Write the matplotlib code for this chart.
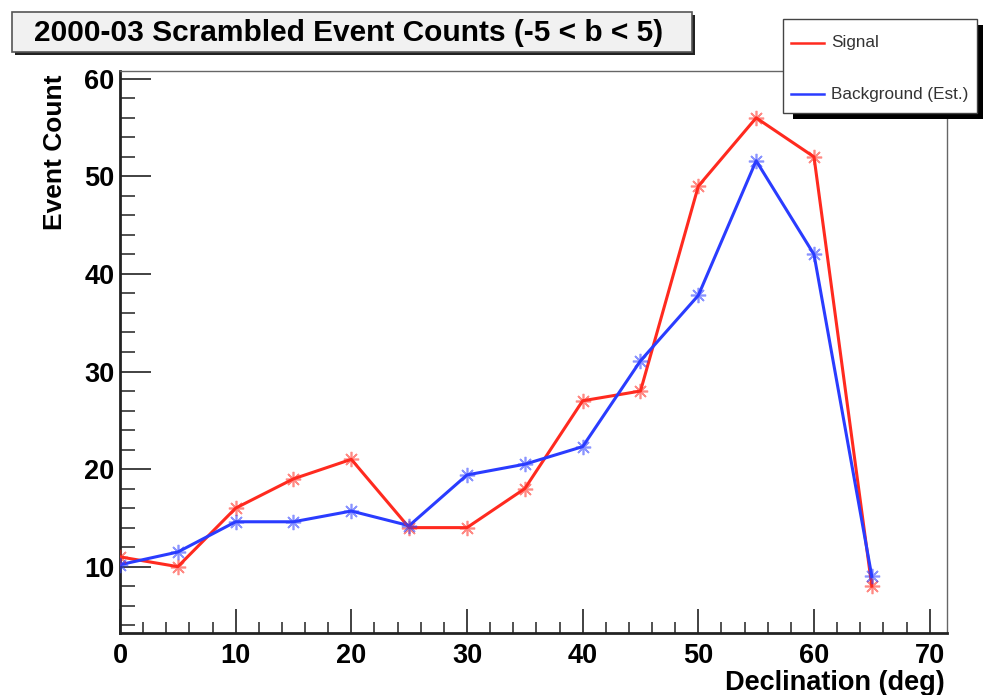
import matplotlib
matplotlib.use("Agg")
import matplotlib.pyplot as plt
from matplotlib.patches import Rectangle
from matplotlib.lines import Line2D
from matplotlib.ticker import MultipleLocator

plt.rcParams['font.family'] = ['Liberation Sans', 'DejaVu Sans']

# Declination bins (deg) and counts
declination = [0, 5, 10, 15, 20, 25, 30, 35, 40, 45, 50, 55, 60, 65]
signal = [11, 10, 16, 19, 21, 14, 14, 18, 27, 28, 49, 56, 52, 8]
background = [10.2, 11.5, 14.6, 14.6, 15.7, 14.2, 19.4, 20.5, 22.3, 31.1, 37.8, 51.6, 42.0, 9.0]

title = "2000-03 Scrambled Event Counts (-5 < b < 5)"
series_labels = ["Signal", "Background (Est.)"]
x_label = "Declination (deg)"
y_label = "Event Count"

W, H = 983, 695
fig = plt.figure(figsize=(W / 100, H / 100), dpi=100)

def fx(px):
    return px / W

def fy(py):
    return 1 - py / H

ax = fig.add_axes([fx(120), fy(633), fx(947) - fx(120), fy(71) - fy(633)])

red = "#ff2a1f"
blue = "#2a3cff"
star = (8, 2, 0)
ax.plot(declination, signal, color=red, lw=2.2, zorder=3)
ax.plot(declination, background, color=blue, lw=2.2, zorder=4)
ax.plot(declination, signal, ls="none", marker=star, ms=11, mew=1.2,
        color=red, alpha=0.55, zorder=5)
ax.plot(declination, background, ls="none", marker=star, ms=11, mew=1.2,
        color=blue, alpha=0.55, zorder=6)

# ROOT-style automatic range with 10% margins, clipped at 0 on x
dx = max(declination) - min(declination)
dy = max(signal + background) - min(signal + background)
ax.set_xlim(max(0, min(declination) - 0.1 * dx), max(declination) + 0.1 * dx)
ax.set_ylim(min(signal + background) - 0.1 * dy, max(signal + background) + 0.1 * dy)

ax.xaxis.set_major_locator(MultipleLocator(10))
ax.xaxis.set_minor_locator(MultipleLocator(2))
ax.yaxis.set_major_locator(MultipleLocator(10))
ax.yaxis.set_minor_locator(MultipleLocator(2))
ax.tick_params(axis="both", which="both", direction="in", colors="#333333",
               labelcolor="black", top=False, right=False)
ax.tick_params(axis="x", which="major", length=17, width=1.3, pad=7)
ax.tick_params(axis="x", which="minor", length=8, width=1.2)
ax.tick_params(axis="y", which="major", length=22, width=1.3, pad=4)
ax.tick_params(axis="y", which="minor", length=11, width=1.2)
for lab in ax.get_xticklabels() + ax.get_yticklabels():
    lab.set_fontsize(19.5)
    lab.set_fontweight("bold")

ax.spines["left"].set_linewidth(2.0)
ax.spines["bottom"].set_linewidth(2.0)
ax.spines["left"].set_color("#222222")
ax.spines["bottom"].set_color("#222222")
for s in ("top", "right"):
    ax.spines[s].set_linewidth(1.0)
    ax.spines[s].set_color("#666666")

fig.text(fx(945), fy(683), x_label, ha="right", va="center",
         fontsize=19.5, fontweight="bold")
fig.text(fx(55), fy(152), y_label, ha="center", va="center", rotation=90,
         fontsize=19, fontweight="bold")

# Title pave with shadow
tx0, ty0, tx1, ty1 = 12, 12, 692, 52
fig.patches.append(Rectangle((fx(tx0 + 3), fy(ty1 + 3)), fx(tx1 - tx0), fy(ty0) - fy(ty1),
                             transform=fig.transFigure, facecolor="#222222",
                             edgecolor="none", zorder=1))
fig.patches.append(Rectangle((fx(tx0), fy(ty1)), fx(tx1 - tx0), fy(ty0) - fy(ty1),
                             transform=fig.transFigure, facecolor="#f1f1f1",
                             edgecolor="#555555", lw=1.2, zorder=2))
fig.text(fx(349), fy(33), title, ha="center", va="center",
         fontsize=21.5, fontweight="bold", zorder=3)

# Legend pave with shadow
lx0, ly0, lx1, ly1 = 783, 19, 977, 113
fig.patches.append(Rectangle((fx(lx0 + 10), fy(ly1 + 6)), fx(lx1 - lx0), fy(ly0) - fy(ly1),
                             transform=fig.transFigure, facecolor="black",
                             edgecolor="none", zorder=10))
fig.patches.append(Rectangle((fx(lx0), fy(ly1)), fx(lx1 - lx0), fy(ly0) - fy(ly1),
                             transform=fig.transFigure, facecolor="white",
                             edgecolor="#444444", lw=1.0, zorder=11))
for label, col, yy in zip(series_labels, [red, blue], [43, 94]):
    fig.lines.append(Line2D([fx(791), fx(824)], [fy(yy), fy(yy)],
                            transform=fig.transFigure, color=col, lw=1.8, zorder=12))
    fig.text(fx(831), fy(yy), label, ha="left", va="center", fontsize=12.3,
             color="#333333", zorder=12)

fig.savefig("out.png", dpi=100)
